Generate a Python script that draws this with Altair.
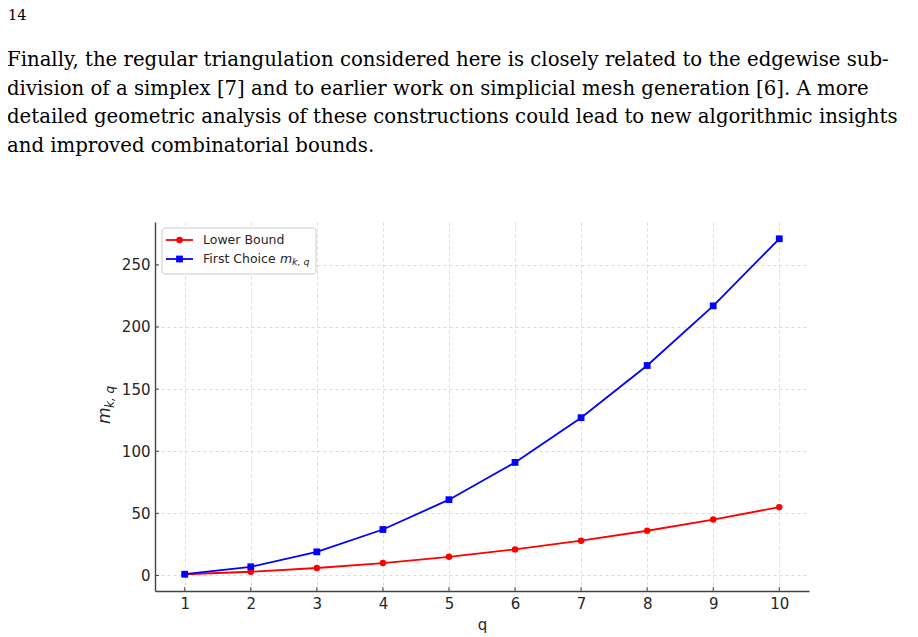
import altair as alt
import pandas as pd

# data
q_values = [1, 2, 3, 4, 5, 6, 7, 8, 9, 10]
lower_bound = [1, 3, 6, 10, 15, 21, 28, 36, 45, 55]
first_choice = [1, 7, 19, 37, 61, 91, 127, 169, 217, 271]
series_names = ["Lower Bound", "First Choice"]
series_colors = ["#ff0000", "#0000ff"]

x_ticks = [1, 2, 3, 4, 5, 6, 7, 8, 9, 10]
y_ticks = [0, 50, 100, 150, 200, 250]

page_number = "14"
paragraph = [
    "Finally, the regular triangulation considered here is closely related to the edgewise sub-",
    "division of a simplex [7] and to earlier work on simplicial mesh generation [6].  A more",
    "detailed geometric analysis of these constructions could lead to new algorithmic insights",
    "and improved combinatorial bounds.",
]

W, H = 654, 369
DARK = "#262626"
SPINE = "#444444"

df = pd.DataFrame({
    "q": q_values * 2,
    "m": lower_bound + first_choice,
    "series": [series_names[0]] * len(q_values) + [series_names[1]] * len(q_values),
})

xs = alt.Scale(domain=[0.55, 10.45], nice=False, zero=False)
ys = alt.Scale(domain=[-12.5, 284.5], nice=False, zero=False)
cs = alt.Scale(domain=series_names, range=series_colors)

base = alt.Chart(df)

lines = base.mark_line(strokeWidth=1.8).encode(
    x=alt.X("q:Q", scale=xs, axis=alt.Axis(values=x_ticks, title="q", format="d", titlePadding=6)),
    y=alt.Y("m:Q", scale=ys, axis=alt.Axis(values=y_ticks, title=None, format="d")),
    color=alt.Color("series:N", scale=cs, legend=None),
    detail="series:N",
)

circles = base.transform_filter(alt.datum.series == series_names[0]).mark_point(
    shape="circle", filled=True, size=42, opacity=1
).encode(x=alt.X("q:Q", scale=xs), y=alt.Y("m:Q", scale=ys),
         color=alt.Color("series:N", scale=cs, legend=None))

squares = base.transform_filter(alt.datum.series == series_names[1]).mark_point(
    shape="square", filled=True, size=46, opacity=1
).encode(x=alt.X("q:Q", scale=xs), y=alt.Y("m:Q", scale=ys),
         color=alt.Color("series:N", scale=cs, legend=None))

# inward tick marks, matplotlib style
xtick_df = pd.DataFrame({"q": x_ticks})
ytick_df = pd.DataFrame({"m": y_ticks})
xt = alt.Chart(xtick_df).mark_rule(color=SPINE, strokeWidth=1).encode(
    x=alt.X("q:Q", scale=xs), y=alt.value(H), y2=alt.value(H - 4))
yt = alt.Chart(ytick_df).mark_rule(color=SPINE, strokeWidth=1).encode(
    y=alt.Y("m:Q", scale=ys), x=alt.value(0), x2=alt.value(4))

# y-axis title  m_{k,q}
ylab_m = alt.Chart(pd.DataFrame({"t": ["m"]})).mark_text(
    angle=270, align="left", baseline="alphabetic", fontSize=17, fontStyle="italic",
    font="DejaVu Sans", color=DARK
).encode(text="t:N", x=alt.value(-45), y=alt.value(202))
ylab_sub = alt.Chart(pd.DataFrame({"t": ["k, q"]})).mark_text(
    angle=270, align="left", baseline="alphabetic", fontSize=12, fontStyle="italic",
    font="DejaVu Sans", color=DARK
).encode(text="t:N", x=alt.value(-41), y=alt.value(186))

# legend box drawn by hand (needs math subscript in a label)
leg_box = alt.Chart(pd.DataFrame({"a": [0]})).mark_rect(
    fill="white", fillOpacity=0.85, stroke="#cccccc", strokeWidth=1, cornerRadius=3
).encode(x=alt.value(7), x2=alt.value(161), y=alt.value(6), y2=alt.value(52))
leg_df = pd.DataFrame({"series": series_names, "row": [18, 37]})
leg_lines = alt.Chart(leg_df).mark_rule(strokeWidth=1.8).encode(
    x=alt.value(11), x2=alt.value(38), y=alt.Y("row:Q", scale=None),
    color=alt.Color("series:N", scale=cs, legend=None))
leg_c = alt.Chart(leg_df.iloc[:1]).mark_point(shape="circle", filled=True, size=42, opacity=1).encode(
    x=alt.value(24.5), y=alt.Y("row:Q", scale=None),
    color=alt.Color("series:N", scale=cs, legend=None))
leg_s = alt.Chart(leg_df.iloc[1:]).mark_point(shape="square", filled=True, size=46, opacity=1).encode(
    x=alt.value(24.5), y=alt.Y("row:Q", scale=None),
    color=alt.Color("series:N", scale=cs, legend=None))
leg_txt = alt.Chart(pd.DataFrame({"t": ["Lower Bound", "First Choice"], "row": [18, 37]})).mark_text(
    align="left", baseline="middle", fontSize=12.5, font="DejaVu Sans", color=DARK
).encode(text="t:N", x=alt.value(48), y=alt.Y("row:Q", scale=None))
leg_m = alt.Chart(pd.DataFrame({"t": ["m"]})).mark_text(
    align="left", baseline="middle", fontSize=12.5, fontStyle="italic", font="DejaVu Sans", color=DARK
).encode(text="t:N", x=alt.value(125), y=alt.value(37))
leg_sub = alt.Chart(pd.DataFrame({"t": ["k, q"]})).mark_text(
    align="left", baseline="middle", fontSize=9.5, fontStyle="italic", font="DejaVu Sans", color=DARK
).encode(text="t:N", x=alt.value(137), y=alt.value(40))

# page text above the figure
page_num = alt.Chart(pd.DataFrame({"t": [page_number]})).mark_text(
    align="left", baseline="alphabetic", fontSize=14.5, font="DejaVu Serif", color="black"
).encode(text="t:N", x=alt.value(-147), y=alt.value(-202.5))
para_df = pd.DataFrame({"t": paragraph, "row": [-156, -127.5, -99, -70.5]})
para = alt.Chart(para_df).mark_text(
    align="left", baseline="alphabetic", fontSize=19.7, font="DejaVu Serif", color="black"
).encode(text="t:N", x=alt.value(-148), y=alt.Y("row:Q", scale=None))

chart = alt.layer(
    lines, circles, squares, xt, yt, ylab_m, ylab_sub,
    leg_box, leg_lines, leg_c, leg_s, leg_txt, leg_m, leg_sub,
    page_num, para,
).properties(
    width=W, height=H,
    autosize=alt.AutoSizeParams(type="none"),
    padding={"left": 147, "top": 214, "right": 100, "bottom": 46},
).configure_view(
    stroke=None
).configure_axis(
    ticks=False, labelPadding=5, labelFont="DejaVu Sans", labelFontSize=15,
    labelColor=DARK, titleFont="DejaVu Sans", titleFontSize=15,
    titleFontWeight="normal", titleColor=DARK, gridDash=[3, 3],
    gridColor="#d0d0d0", gridWidth=0.8, domainColor=SPINE, domainWidth=1.4,
)

chart.save("out.html", embed_options={"renderer": "svg", "actions": False})
